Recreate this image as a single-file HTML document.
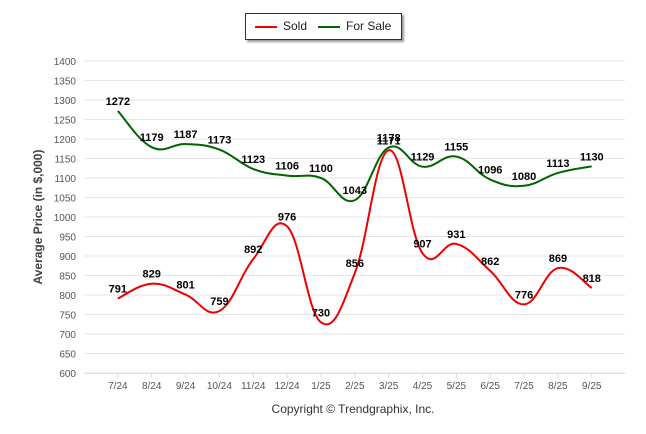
<!DOCTYPE html>
<html><head><meta charset="utf-8"><style>
body{margin:0;background:#fff;width:646px;height:434px;overflow:hidden;font-family:"Liberation Sans",sans-serif}
</style></head><body>
<svg id="c" width="646" height="434" style="position:absolute;left:0;top:0"></svg>
<script>
const categories=["7/24","8/24","9/24","10/24","11/24","12/24","1/25","2/25","3/25","4/25","5/25","6/25","7/25","8/25","9/25"];
const sold=[791,829,801,759,892,976,730,856,1171,907,931,862,776,869,818];
const forSale=[1272,1179,1187,1173,1123,1106,1100,1043,1178,1129,1155,1096,1080,1113,1130];
const yTicks=[600,650,700,750,800,850,900,950,1000,1050,1100,1150,1200,1250,1300,1350,1400];
const NS="http://www.w3.org/2000/svg";
const svg=document.getElementById('c');
const X0=84,X1=625,STEP=33.85,Y0=373,Y1=61;
const x=i=>X0+(i+1)*STEP;
const y=v=>Y0-(v-600)/(800)*(Y0-Y1);
function mk(t,a,p){const e=document.createElementNS(NS,t);for(const k in a)e.setAttribute(k,a[k]);(p||svg).appendChild(e);return e;}
yTicks.forEach(v=>{
 const l=mk('line',{x1:X0,x2:X1,y1:y(v),y2:y(v),stroke:'#e6e6e6','stroke-width':1});
 
 
 const t=mk('text',{x:76,y:y(v)+4,'text-anchor':'end','font-size':10,fill:'#555'});
 t.textContent=v;
 
 
});
mk('line',{x1:X0,x2:X1,y1:Y0+0.5,y2:Y0+0.5,stroke:'#ddd'});
categories.forEach((c,i)=>{
 mk('line',{x1:x(i),x2:x(i),y1:Y0,y2:Y0+5,stroke:'#ddd'});
 const t=mk('text',{x:x(i),y:389,'text-anchor':'middle','font-size':10,fill:'#555'});
 t.textContent=c;
 
 
});
function path(vals){
 const p=vals.map((v,i)=>[x(i),y(v)]);
 let d='M'+p[0][0]+','+p[0][1];
 for(let i=0;i<p.length-1;i++){
  const p0=p[Math.max(0,i-1)],p1=p[i],p2=p[i+1],p3=p[Math.min(p.length-1,i+2)];
  const t=0.2;
  d+=' C'+(p1[0]+(p2[0]-p0[0])*t)+','+(p1[1]+(p2[1]-p0[1])*t)+' '+(p2[0]-(p3[0]-p1[0])*t)+','+(p2[1]-(p3[1]-p1[1])*t)+' '+p2[0]+','+p2[1];
 }
 return d;
}
const sl=mk('path',{d:path(forSale),fill:'none',stroke:'#006400','stroke-width':2});


const so=mk('path',{d:path(sold),fill:'none',stroke:'#ee0000','stroke-width':2});


[forSale,sold].forEach((arr,s)=>arr.forEach((v,i)=>{
 const t=mk('text',{x:x(i),y:y(v)-6,'text-anchor':'middle','font-size':11,'font-weight':'bold',fill:'#000'});
 t.textContent=v;
 
 
}));
</script>
<div style="position:absolute;left:38px;top:217px;transform:translate(-50%,-50%) rotate(-90deg);white-space:nowrap;font-size:12px;font-weight:bold;color:#444">Average Price (in $,000)</div>
<div style="position:absolute;left:245px;top:13px;width:155px;height:25px;border:1px solid #1f3358;box-shadow:2px 2px 2px #999;background:#fff;font-size:12px;color:#222">
 <span style="position:absolute;left:9px;top:5px"><span style="display:inline-block;width:22px;height:2px;background:#e00;vertical-align:middle;margin-right:6px"></span>Sold</span>
 <span style="position:absolute;left:72px;top:5px"><span style="display:inline-block;width:22px;height:2px;background:#006400;vertical-align:middle;margin-right:6px"></span>For Sale</span>
</div>
<div style="position:absolute;left:0;width:706px;top:402px;text-align:center;font-size:12px;color:#333">Copyright © Trendgraphix, Inc.</div>
</body></html>
